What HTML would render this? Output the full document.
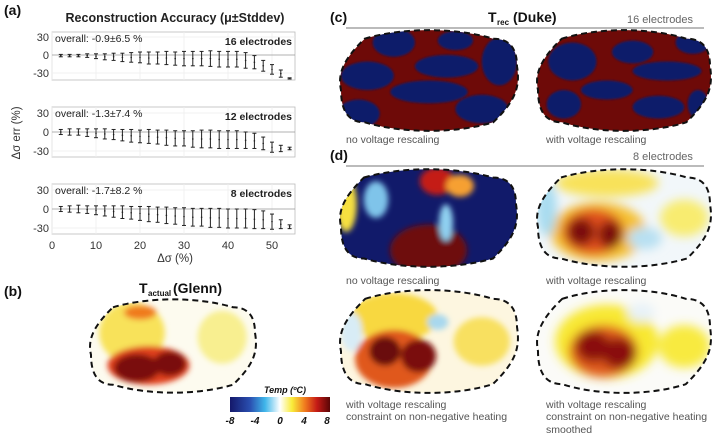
<!DOCTYPE html>
<html><head><meta charset="utf-8"><style>
body{margin:0;background:#fff;}
svg{display:block;font-family:"Liberation Sans",sans-serif;}
.lab{font-family:"Liberation Sans",sans-serif;font-size:10.5px;fill:#555;}
</style></head><body>
<svg id="fig" width="718" height="438" viewBox="0 0 718 438">
<defs>
<filter id="bl" x="-50%" y="-50%" width="200%" height="200%"><feGaussianBlur stdDeviation="5"/></filter>
<filter id="bl2" x="-50%" y="-50%" width="200%" height="200%"><feGaussianBlur stdDeviation="3"/></filter>
<filter id="bl1" x="-50%" y="-50%" width="200%" height="200%"><feGaussianBlur stdDeviation="1"/></filter>
<linearGradient id="cmap" x1="0" x2="1" y1="0" y2="0">
<stop offset="0" stop-color="#14186a"/><stop offset="0.2" stop-color="#2a4fb0"/><stop offset="0.35" stop-color="#3fb6ea"/>
<stop offset="0.5" stop-color="#ffffff"/><stop offset="0.62" stop-color="#f9ec3a"/><stop offset="0.75" stop-color="#f07a1e"/>
<stop offset="0.87" stop-color="#c41a16"/><stop offset="1" stop-color="#5a0606"/>
</linearGradient>
</defs>
<g id="chartA"></g>
<g id="maps"></g>
</svg>
<script>
const NS="http://www.w3.org/2000/svg";
const xTicks=[0,10,20,30,40,50];
const yTicks=[30,0,-30];
const deltaSigma=[2,4,6,8,10,12,14,16,18,20,22,24,26,28,30,32,34,36,38,40,42,44,46,48,50,52,54];
const mean16=[-1,-1,-1,-1,-2,-3,-3,-4,-4,-4,-5,-5,-5,-6,-6,-6,-6,-6,-7,-7,-7,-9,-12,-18,-24,-31,-39];
const std16=[2,2,2,3,4,5,6,7,8,9,10,10,11,11,12,12,12,13,13,13,13,13,11,9,8,6,1];
const mean12=[0,0,0,-1,-2,-3,-4,-5,-6,-7,-7,-8,-9,-10,-10,-11,-11,-11,-12,-12,-12,-13,-14,-18,-24,-26,-26];
const std12=[4,5,5,6,7,8,8,9,10,10,11,11,12,12,12,13,14,14,14,14,14,13,12,10,8,5,2];
const mean8=[0,0,0,-1,-2,-3,-4,-5,-6,-7,-8,-9,-10,-11,-12,-13,-13,-14,-14,-15,-15,-15,-16,-17,-20,-24,-28];
const std8=[4,5,6,6,7,8,9,10,10,11,12,12,13,13,14,14,14,15,15,15,15,15,15,14,12,7,3];
const panelNames=["16 electrodes","12 electrodes","8 electrodes"];
const overall=["overall: -0.9\u00b16.5 %","overall: -1.3\u00b17.4 %","overall: -1.7\u00b18.2 %"];
const means=[mean16,mean12,mean8], stds=[std16,std12,std8];

function mk(tag,attrs,parent,text){const e=document.createElementNS(NS,tag);for(const k in attrs)e.setAttribute(k,attrs[k]);if(text!==undefined)e.textContent=text;parent.appendChild(e);return e;}
const A=document.getElementById('chartA');
const X0=52,X1=295;
const xs=v=>X0+v*4.4;
const geo=[{t:32,b:80,z:55,k:18/30},{t:107,b:157,z:132,k:19/30},{t:184,b:234,z:209,k:19/30}];
let t=mk('text',{x:175,y:22,'text-anchor':'middle','font-size':12.5,'font-weight':'bold',fill:'#222'},A,'Reconstruction Accuracy (\u03bc\u00b1Stddev)');

t=mk('text',{x:4,y:15,'font-size':14,'font-weight':'bold',fill:'#111'},A,'(a)');

geo.forEach((g,p)=>{
  const ys=v=>g.z-v*g.k;
  const grp=mk('g',{},A);
  
  
  mk('rect',{x:X0,y:g.t,width:X1-X0,height:g.b-g.t,fill:'#fff',stroke:'#bbb','stroke-width':0.8},grp);
  xTicks.forEach(v=>mk('line',{x1:xs(v),x2:xs(v),y1:g.t,y2:g.b,stroke:'#eee','stroke-width':0.8},grp));
  yTicks.forEach(v=>{mk('line',{x1:X0,x2:X1,y1:ys(v),y2:ys(v),stroke:v===0?'#999':'#eee','stroke-width':0.8},grp);
    const tl=mk('text',{x:X0-3,y:ys(v)+4,'text-anchor':'end','font-size':11,fill:'#333'},grp,String(v));
    });
  const ov=mk('text',{x:X0+3,y:g.t+10,'font-size':10.5,fill:'#222'},grp,overall[p]);
  
  const nm=mk('text',{x:X1-3,y:g.t+13,'text-anchor':'end','font-size':10.5,'font-weight':'bold',fill:'#222'},grp,panelNames[p]);
  
  deltaSigma.forEach((d,i)=>{
    const m=means[p][i],s=stds[p][i],x=xs(d);
    const eb=mk('g',{stroke:'#222','stroke-width':1},grp);
    
    mk('line',{x1:x,x2:x,y1:ys(m+s),y2:ys(m-s)},eb);
    mk('line',{x1:x-2,x2:x+2,y1:ys(m+s),y2:ys(m+s)},eb);
    mk('line',{x1:x-2,x2:x+2,y1:ys(m-s),y2:ys(m-s)},eb);
    mk('circle',{cx:x,cy:ys(m),r:0.8,fill:'#222',stroke:'none'},eb);
  });
});
xTicks.forEach(v=>{const tl=mk('text',{x:xs(v),y:249,'text-anchor':'middle','font-size':11,fill:'#333'},A,String(v));
  });
t=mk('text',{x:175,y:262,'text-anchor':'middle','font-size':11.5,fill:'#333'},A,'\u0394\u03c3 (%)');

t=mk('text',{x:0,y:0,'text-anchor':'middle','font-size':11.5,fill:'#333',transform:'translate(20,133) rotate(-90)'},A,'\u0394\u03c3 err (%)');


// maps
const M=document.getElementById('maps');
function blob(x,y,w,h){const r=h*0.25,b=h*0.06;
 return `M${x+r},${y+b} C${x+w*0.35},${y-b} ${x+w*0.65},${y-b} ${x+w-r},${y+b} Q${x+w},${y+b} ${x+w},${y+h*0.35} C${x+w+3},${y+h*0.55} ${x+w},${y+h*0.7} ${x+w-r},${y+h-b} C${x+w*0.65},${y+h+b} ${x+w*0.35},${y+h+b} ${x+r},${y+h-b} Q${x},${y+h-b} ${x},${y+h*0.6} C${x-3},${y+h*0.45} ${x},${y+h*0.3} ${x+r},${y+b}Z`;}
let cid=0;
function map(name,x,y,w,h,base,spots,blur){
 const g=mk('g',{},M);
 const id='c'+(cid++);const cp=mk('clipPath',{id:id},g);mk('path',{d:blob(x,y,w,h)},cp);
 const inner=mk('g',{'clip-path':`url(#${id})`},g);
 mk('rect',{x:x-5,y:y-5,width:w+10,height:h+10,fill:base},inner);
 const sg=mk('g',{filter:`url(#${blur})`},inner);
 spots.forEach(s=>mk('ellipse',{cx:x+s[0]*w,cy:y+s[1]*h,rx:s[2]*w,ry:s[3]*h,fill:s[4]},sg));
 mk('path',{d:blob(x,y,w,h),fill:'none',stroke:'#111','stroke-width':2,'stroke-dasharray':'6,4'},g);
}
function txt(x,y,s,name,attrs){const e=mk('text',Object.assign({x:x,y:y},attrs||{}),M,s);e.setAttribute('class','lab');return e;}
const DR='#6e0a08',NV='#111a6a';
// (c)
txt(330,22,'(c)','panel-c-label',{style:'font-size:14px;font-weight:bold;fill:#111'});
txt(488,22,'T','panel-c-title',{style:'font-size:14px;font-weight:bold;fill:#111'});
txt(497,25,'rec','panel-c-title-sub',{style:'font-size:8px;font-weight:bold;fill:#111'});
txt(513,22,'(Duke)','panel-c-title-duke',{style:'font-size:14px;font-weight:bold;fill:#111'});
txt(627,23,'16 electrodes','panel-c-electrodes',{style:'font-size:11px;fill:#666'});
mk('line',{x1:346,x2:704,y1:28,y2:28,stroke:'#777','stroke-width':1},M);
map('duke-16-no-rescaling',341,33,176,95,DR,[[0.3,0.1,0.12,0.15,NV],[0.15,0.45,0.15,0.15,NV],[0.6,0.35,0.18,0.12,NV],[0.5,0.62,0.22,0.12,NV],[0.9,0.3,0.1,0.25,NV],[0.1,0.85,0.12,0.15,NV],[0.8,0.8,0.15,0.15,NV],[0.65,0.08,0.1,0.1,NV]],'bl1');
map('duke-16-with-rescaling',538,33,172,95,DR,[[0.2,0.3,0.14,0.2,NV],[0.55,0.2,0.12,0.12,NV],[0.75,0.4,0.2,0.1,NV],[0.4,0.6,0.15,0.1,NV],[0.15,0.75,0.1,0.15,NV],[0.7,0.78,0.15,0.12,NV],[0.9,0.1,0.1,0.12,NV],[0.93,0.75,0.06,0.15,NV]],'bl1');
txt(346,143,'no voltage rescaling','label-no-rescaling-c');
txt(546,143,'with voltage rescaling','label-with-rescaling-c');
// (d)
txt(330,160,'(d)','panel-d-label',{style:'font-size:14px;font-weight:bold;fill:#111'});
txt(633,160,'8 electrodes','panel-d-electrodes',{style:'font-size:11px;fill:#666'});
mk('line',{x1:346,x2:704,y1:166,y2:166,stroke:'#777','stroke-width':1},M);
map('glenn-8-no-rescaling',341,172,175,92,NV,[[0.03,0.35,0.06,0.3,'#f6e040'],[0.2,0.3,0.07,0.2,'#7fc4ea'],[0.55,0.1,0.1,0.15,'#c41a16'],[0.68,0.15,0.08,0.12,'#f6a030'],[0.5,0.85,0.22,0.28,DR],[0.6,0.55,0.04,0.2,'#8fd0f0']],'bl2');
map('glenn-8-with-rescaling',538,172,172,92,'#f2f7fa',[[0.4,0.12,0.3,0.15,'#f8e25a'],[0.35,0.65,0.28,0.32,'#f5c030'],[0.32,0.65,0.18,0.25,'#e0501a'],[0.25,0.65,0.08,0.15,'#7a0a08'],[0.42,0.68,0.07,0.15,'#7a0a08'],[0.05,0.4,0.06,0.3,'#a8dcf0'],[0.85,0.5,0.14,0.2,'#f8ec70'],[0.62,0.72,0.1,0.12,'#b8e0f2']],'bl');
txt(346,284,'no voltage rescaling','label-no-rescaling-d');
txt(546,284,'with voltage rescaling','label-with-rescaling-d');
map('glenn-8-constrained',341,293,176,97,'#fdf6e0',[[0.3,0.25,0.25,0.25,'#f8d840'],[0.06,0.4,0.06,0.2,'#d8ecf6'],[0.55,0.3,0.06,0.08,'#a8d8ee'],[0.8,0.5,0.16,0.25,'#f8e060'],[0.3,0.68,0.22,0.3,'#e0581a'],[0.25,0.6,0.09,0.15,'#6a0808'],[0.44,0.65,0.1,0.17,'#7a0a08']],'bl2');
map('glenn-8-smoothed',538,293,172,97,'#fbfbf8',[[0.4,0.5,0.3,0.38,'#f8e830'],[0.85,0.55,0.15,0.22,'#f8ea40'],[0.38,0.6,0.2,0.27,'#e05a1a'],[0.32,0.55,0.1,0.16,'#8a0c0a'],[0.47,0.62,0.1,0.16,'#8a0c0a'],[0.6,0.2,0.08,0.1,'#e8f2f8']],'bl');
txt(346,408,'with voltage rescaling','label-constrained-1');
txt(346,420,'constraint on non-negative heating','label-constrained-2');
txt(546,408,'with voltage rescaling','label-smoothed-1');
txt(546,420,'constraint on non-negative heating','label-smoothed-2');
txt(546,433,'smoothed','label-smoothed-3');
// (b)
txt(4,296,'(b)','panel-b-label',{style:'font-size:14px;font-weight:bold;fill:#111'});
txt(139,293,'T','panel-b-title',{style:'font-size:14px;font-weight:bold;fill:#111'});
txt(148,296,'actual','panel-b-title-sub',{style:'font-size:8px;font-weight:bold;fill:#111'});
txt(173,293,'(Glenn)','panel-b-title-glenn',{style:'font-size:14px;font-weight:bold;fill:#111'});
map('glenn-actual',91,302,164,88,'#fdfbef',[[0.25,0.35,0.2,0.35,'#f8e25a'],[0.3,0.12,0.1,0.08,'#f07a1e'],[0.8,0.4,0.15,0.3,'#f8ef90'],[0.35,0.72,0.25,0.22,'#e0401a'],[0.28,0.75,0.14,0.16,'#7a0a08'],[0.48,0.7,0.1,0.14,'#7a0a08']],'bl2');
const cb=mk('rect',{x:230,y:397,width:100,height:15,fill:'url(#cmap)'},M);

txt(264,393,'Temp (\u00baC)','colorbar-title',{style:'font-size:9px;font-weight:bold;font-style:italic;fill:#111'});
[['-8',230],['-4',255],['0',280],['4',304],['8',327]].forEach(a=>txt(a[1],424,a[0],'colorbar-tick',{'text-anchor':'middle',style:'font-size:10px;font-weight:bold;font-style:italic;fill:#111'}));
</script>
</body></html>
